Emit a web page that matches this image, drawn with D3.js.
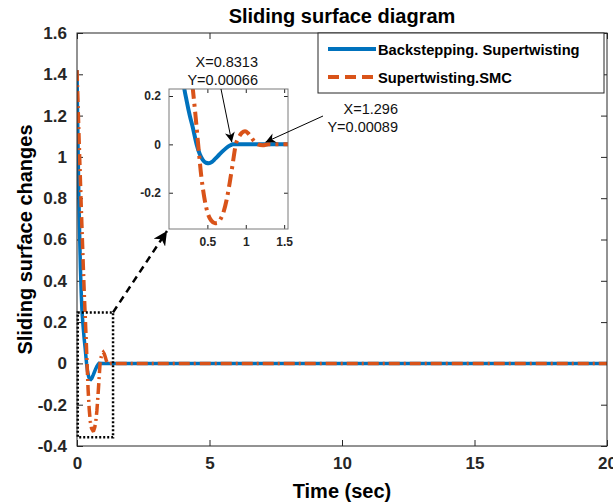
<!DOCTYPE html>
<html>
<head>
<meta charset="utf-8">
<script src="https://cdn.jsdelivr.net/npm/d3@7"></script>
<style>
  body { margin: 0; background: #fff; }
  svg text { font-family: "Liberation Sans", Arial, sans-serif; }
</style>
</head>
<body>
<div id="chart"></div>
<script>
// ---------------------------------------------------------------
// Données
const tBlue = [0, 0.02, 0.04, 0.07, 0.10, 0.13, 0.16, 0.19, 0.23, 0.27, 0.31, 0.36, 0.40, 0.44, 0.48, 0.52, 0.56, 0.60, 0.65, 0.70, 0.75, 0.80, 0.8313, 1.0, 1.5, 5, 10, 15, 20];
const sBlue = [1.42, 1.22, 1.03, 0.80, 0.62, 0.46, 0.34, 0.25, 0.18, 0.12, 0.07, 0.0, -0.04, -0.064, -0.076, -0.078, -0.072, -0.060, -0.044, -0.028, -0.014, -0.004, 0.00066, 0, 0, 0, 0, 0, 0];

const tOrange = [0, 0.04, 0.08, 0.12, 0.16, 0.20, 0.24, 0.28, 0.31, 0.345, 0.38, 0.42, 0.46, 0.50, 0.55, 0.60, 0.63, 0.67, 0.71, 0.75, 0.79, 0.83, 0.87, 0.91, 0.95, 0.99, 1.03, 1.07, 1.11, 1.16, 1.22, 1.296, 1.4, 5, 10, 15, 20];
const sOrange = [1.42, 1.25, 1.08, 0.92, 0.76, 0.61, 0.46, 0.32, 0.23, 0.12, 0.0, -0.13, -0.22, -0.28, -0.315, -0.326, -0.325, -0.31, -0.28, -0.23, -0.16, -0.08, 0.0, 0.03, 0.048, 0.054, 0.046, 0.03, 0.012, 0.0, -0.004, 0.00089, 0, 0, 0, 0, 0];

const xTicks = [0, 5, 10, 15, 20];
const yTicks = [-0.4, -0.2, 0, 0.2, 0.4, 0.6, 0.8, 1, 1.2, 1.4, 1.6];
const insetXTicks = [0.5, 1, 1.5];
const insetYTicks = [-0.2, 0, 0.2];

const seriesNames = ["Backstepping. Supertwisting", "Supertwisting.SMC"];
const seriesColors = ["#0072BD", "#D95319"];

const tip1 = { x: 0.8313, y: 0.00066 };
const tip2 = { x: 1.296, y: 0.00089 };
const zoomBox = { x0: 0.03, x1: 1.36, y0: -0.358, y1: 0.247 };

// ---------------------------------------------------------------
// Canevas
const W = 613, H = 503;
const plot = { left: 77, right: 607, top: 33, bottom: 446 };
const inset = { left: 169, right: 288, top: 89, bottom: 229 };
const axisCol = "#262626";

const svg = d3.select("#chart").append("svg")
    .attr("width", W).attr("height", H);

const defs = svg.append("defs");
defs.append("clipPath").attr("id", "clipMain")
    .append("rect")
    .attr("x", plot.left).attr("y", plot.top)
    .attr("width", plot.right - plot.left).attr("height", plot.bottom - plot.top);
defs.append("clipPath").attr("id", "clipInset")
    .append("rect")
    .attr("x", inset.left).attr("y", inset.top)
    .attr("width", inset.right - inset.left).attr("height", inset.bottom - inset.top);
defs.append("marker").attr("id", "arrow")
    .attr("viewBox", "0 0 10 10").attr("refX", 10).attr("refY", 5)
    .attr("markerWidth", 10).attr("markerHeight", 10)
    .attr("markerUnits", "userSpaceOnUse")
    .attr("orient", "auto")
    .append("path").attr("d", "M0,0 L10,5 L0,10 L3,5 Z").attr("fill", "#000");
defs.append("marker").attr("id", "arrowBig")
    .attr("viewBox", "0 0 10 10").attr("refX", 10).attr("refY", 5)
    .attr("markerWidth", 14).attr("markerHeight", 14)
    .attr("markerUnits", "userSpaceOnUse")
    .attr("orient", "auto")
    .append("path").attr("d", "M0,0 L10,5 L0,10 L3,5 Z").attr("fill", "#000");

// ---------------------------------------------------------------
// Échelles
const x = d3.scaleLinear().domain([0, 20]).range([plot.left, plot.right]);
const y = d3.scaleLinear().domain([-0.4, 1.6]).range([plot.bottom, plot.top]);
const xi = d3.scaleLinear().domain([0, 1.55]).range([inset.left, inset.right]);
const yi = d3.scaleLinear().domain([-0.35, 0.229]).range([inset.bottom, inset.top]);

const fmt = d => (Math.round(d * 10) / 10).toString();

// ---------------------------------------------------------------
// Axes principaux
svg.append("g")
    .attr("transform", `translate(0,${plot.bottom})`)
    .call(d3.axisBottom(x).tickValues(xTicks).tickSize(-6).tickPadding(11).tickFormat(fmt))
    .call(g => g.select(".domain").remove())
    .call(g => g.selectAll("line").attr("stroke", axisCol))
    .call(g => g.selectAll("text").attr("fill", axisCol)
        .attr("font-size", 17).attr("font-weight", "bold")
        .attr("font-family", "Liberation Sans, Arial, sans-serif"));

svg.append("g")
    .attr("transform", `translate(0,${plot.top})`)
    .call(d3.axisTop(x).tickValues(xTicks).tickSize(-6).tickFormat(""))
    .call(g => g.select(".domain").remove())
    .call(g => g.selectAll("line").attr("stroke", axisCol));

svg.append("g")
    .attr("transform", `translate(${plot.left},0)`)
    .call(d3.axisLeft(y).tickValues(yTicks).tickSize(-6).tickPadding(10).tickFormat(fmt))
    .call(g => g.select(".domain").remove())
    .call(g => g.selectAll("line").attr("stroke", axisCol))
    .call(g => g.selectAll("text").attr("fill", axisCol)
        .attr("font-size", 17).attr("font-weight", "bold")
        .attr("font-family", "Liberation Sans, Arial, sans-serif"));

svg.append("g")
    .attr("transform", `translate(${plot.right},0)`)
    .call(d3.axisRight(y).tickValues(yTicks).tickSize(-6).tickFormat(""))
    .call(g => g.select(".domain").remove())
    .call(g => g.selectAll("line").attr("stroke", axisCol));

// ---------------------------------------------------------------
// Courbes principales
const lineMain = d3.line().x(d => x(d[0])).y(d => y(d[1]));
const blueData = d3.zip(tBlue, sBlue);
const orangeData = d3.zip(tOrange, sOrange);

const gMain = svg.append("g").attr("clip-path", "url(#clipMain)");
gMain.append("path")
    .attr("d", lineMain(blueData))
    .attr("fill", "none").attr("stroke", seriesColors[0])
    .attr("stroke-width", 3.5);
gMain.append("path")
    .attr("d", lineMain(orangeData))
    .attr("fill", "none").attr("stroke", seriesColors[1])
    .attr("stroke-width", 3.5)
    .attr("stroke-dasharray", "11,4,2,4");

// cadre principal
svg.append("rect")
    .attr("x", plot.left).attr("y", plot.top)
    .attr("width", plot.right - plot.left).attr("height", plot.bottom - plot.top)
    .attr("fill", "none").attr("stroke", axisCol).attr("stroke-width", 1);

// rectangle pointillé du zoom
svg.append("rect")
    .attr("x", x(zoomBox.x0)).attr("y", y(zoomBox.y1))
    .attr("width", x(zoomBox.x1) - x(zoomBox.x0))
    .attr("height", y(zoomBox.y0) - y(zoomBox.y1))
    .attr("fill", "none").attr("stroke", "#000")
    .attr("stroke-width", 2.5).attr("stroke-dasharray", "2,2");

// flèche pointillée vers l'encart
svg.append("line")
    .attr("x1", x(zoomBox.x1)).attr("y1", y(zoomBox.y1))
    .attr("x2", inset.left - 2).attr("y2", inset.bottom + 2)
    .attr("stroke", "#000").attr("stroke-width", 2.5)
    .attr("stroke-dasharray", "7,5")
    .attr("marker-end", "url(#arrowBig)");

// ---------------------------------------------------------------
// Encart
svg.append("rect")
    .attr("x", inset.left).attr("y", inset.top)
    .attr("width", inset.right - inset.left).attr("height", inset.bottom - inset.top)
    .attr("fill", "#fff");

svg.append("g")
    .attr("transform", `translate(0,${inset.bottom})`)
    .call(d3.axisBottom(xi).tickValues(insetXTicks).tickSize(-4).tickPadding(8).tickFormat(fmt))
    .call(g => g.select(".domain").remove())
    .call(g => g.selectAll("line").attr("stroke", axisCol))
    .call(g => g.selectAll("text").attr("fill", axisCol)
        .attr("font-size", 12).attr("font-weight", "bold")
        .attr("font-family", "Liberation Sans, Arial, sans-serif"));
svg.append("g")
    .attr("transform", `translate(0,${inset.top})`)
    .call(d3.axisTop(xi).tickValues(insetXTicks).tickSize(-4).tickFormat(""))
    .call(g => g.select(".domain").remove())
    .call(g => g.selectAll("line").attr("stroke", axisCol));
svg.append("g")
    .attr("transform", `translate(${inset.left},0)`)
    .call(d3.axisLeft(yi).tickValues(insetYTicks).tickSize(-4).tickPadding(8).tickFormat(fmt))
    .call(g => g.select(".domain").remove())
    .call(g => g.selectAll("line").attr("stroke", axisCol))
    .call(g => g.selectAll("text").attr("fill", axisCol)
        .attr("font-size", 12).attr("font-weight", "bold")
        .attr("font-family", "Liberation Sans, Arial, sans-serif"));
svg.append("g")
    .attr("transform", `translate(${inset.right},0)`)
    .call(d3.axisRight(yi).tickValues(insetYTicks).tickSize(-4).tickFormat(""))
    .call(g => g.select(".domain").remove())
    .call(g => g.selectAll("line").attr("stroke", axisCol));

const lineInset = d3.line().x(d => xi(d[0])).y(d => yi(d[1])).curve(d3.curveMonotoneX);
const gInset = svg.append("g").attr("clip-path", "url(#clipInset)");
gInset.append("path")
    .attr("d", lineInset(blueData))
    .attr("fill", "none").attr("stroke", seriesColors[0])
    .attr("stroke-width", 4);
gInset.append("path")
    .attr("d", lineInset(orangeData))
    .attr("fill", "none").attr("stroke", seriesColors[1])
    .attr("stroke-width", 4)
    .attr("stroke-dasharray", "13,5,3,5");

svg.append("rect")
    .attr("x", inset.left).attr("y", inset.top)
    .attr("width", inset.right - inset.left).attr("height", inset.bottom - inset.top)
    .attr("fill", "none").attr("stroke", "#7a7a7a").attr("stroke-width", 1);

// ---------------------------------------------------------------
// Annotations (data tips)
const annot = svg.append("g").attr("font-size", 14.5).attr("fill", "#111")
    .attr("text-anchor", "end");
annot.append("text").attr("x", 258).attr("y", 67).text(`X=${tip1.x}`);
annot.append("text").attr("x", 258).attr("y", 85).text(`Y=${tip1.y}`);
svg.append("line")
    .attr("x1", 221).attr("y1", 89)
    .attr("x2", xi(tip1.x) - 1).attr("y2", yi(tip1.y) - 2)
    .attr("stroke", "#000").attr("stroke-width", 1)
    .attr("marker-end", "url(#arrow)");

annot.append("text").attr("x", 398).attr("y", 114).text(`X=${tip2.x}`);
annot.append("text").attr("x", 398).attr("y", 132).text(`Y=${tip2.y}`);
svg.append("line")
    .attr("x1", 323).attr("y1", 116)
    .attr("x2", xi(tip2.x) - 3).attr("y2", yi(tip2.y) - 2)
    .attr("stroke", "#000").attr("stroke-width", 1)
    .attr("marker-end", "url(#arrow)");

// ---------------------------------------------------------------
// Légende
const leg = { x: 318, y: 33, w: 286, h: 60 };
svg.append("rect")
    .attr("x", leg.x).attr("y", leg.y).attr("width", leg.w).attr("height", leg.h)
    .attr("fill", "#fff").attr("stroke", axisCol).attr("stroke-width", 1);

const legend = svg.selectAll(".legend")
    .data(seriesNames)
    .join("g")
    .attr("class", "legend")
    .attr("transform", (d, i) => `translate(${leg.x + 10}, ${leg.y + 16 + i * 28})`);
legend.append("line")
    .attr("x1", 0).attr("x2", 48).attr("y1", 0).attr("y2", 0)
    .attr("stroke", (d, i) => seriesColors[i])
    .attr("stroke-width", 4)
    .attr("stroke-dasharray", (d, i) => i === 1 ? "11,6" : null);
legend.append("text")
    .attr("x", 50).attr("y", 5.5)
    .attr("font-size", 14.7).attr("font-weight", "bold").attr("fill", "#000")
    .text(d => d);

// ---------------------------------------------------------------
// Titres
svg.append("text")
    .attr("x", (plot.left + plot.right) / 2).attr("y", 23)
    .attr("text-anchor", "middle")
    .attr("font-size", 20).attr("font-weight", "bold")
    .text("Sliding surface diagram");

svg.append("text")
    .attr("x", (plot.left + plot.right) / 2).attr("y", 498)
    .attr("text-anchor", "middle")
    .attr("font-size", 20).attr("font-weight", "bold")
    .text("Time (sec)");

svg.append("text")
    .attr("transform", `translate(32, ${(plot.top + plot.bottom) / 2}) rotate(-90)`)
    .attr("text-anchor", "middle")
    .attr("font-size", 20).attr("font-weight", "bold")
    .text("Sliding surface changes");
</script>
</body>
</html>
